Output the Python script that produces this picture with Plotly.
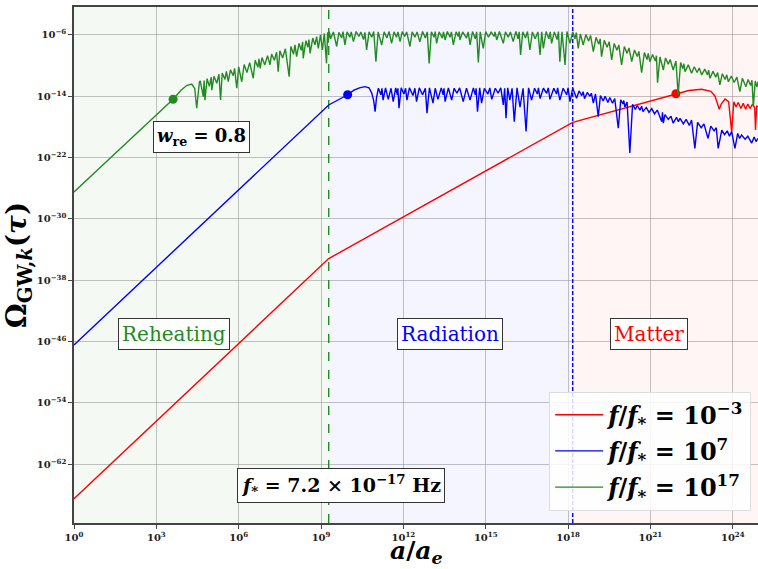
import numpy as np
import plotly.graph_objects as go

# ---------------------------------------------------------------------------
# Data (log10 of a/a_e, log10 of Omega_GW,k)
# ---------------------------------------------------------------------------
red_pts = [
    (0.0, -66.5), (9.28, -35.17), (18.17, -17.4), (21.93, -13.66),
    (22.4, -13.25), (22.87, -13.08), (23.2, -13.35), (23.35, -13.95),
    (23.45, -15.0), (23.51, -15.7), (23.58, -15.0), (23.72, -14.35),
    (23.85, -14.7), (23.96, -18.6), (24.04, -14.7), (24.12, -15.4),
    (24.2, -14.8), (24.3, -15.6), (24.38, -14.9), (24.47, -15.7),
    (24.55, -15.0), (24.63, -15.6), (24.72, -15.0), (24.8, -15.5),
    (24.83, -18.4), (24.87, -15.3), (24.92, -15.35),
]

blue_pts = [
    (0.0, -46.43), (9.28, -15.13), (9.97, -13.8), (10.2, -13.2), (10.4, -12.9),
    (10.6, -12.74), (10.75, -12.9), (10.85, -13.6), (10.92, -14.6), (10.97, -16.0),
    (11.02, -14.2), (11.09, -12.95),
    (11.18, -13.8), (11.22, -12.95), (11.26, -14.5), (11.35, -12.9), (11.45, -14.4),
    (11.55, -12.95), (11.63, -14.7), (11.72, -12.9), (11.78, -13.8), (11.8, -12.95),
    (11.84, -15.56), (11.92, -12.9), (12.02, -13.7), (12.08, -12.95), (12.13, -14.5),
    (12.22, -12.9), (12.35, -13.9), (12.42, -12.95), (12.48, -14.7), (12.58, -12.9),
    (12.7, -13.8), (12.8, -12.95), (12.86, -16.2), (12.95, -12.9), (13.08, -14.9),
    (13.16, -12.95), (13.26, -14.4), (13.38, -12.9), (13.45, -13.8), (13.48, -12.95),
    (13.52, -14.7), (13.64, -12.9), (13.76, -14.5), (13.85, -12.95), (13.95, -13.6),
    (14.05, -12.9), (14.18, -14.7), (14.3, -12.95), (14.43, -14.5), (14.55, -12.9),
    (14.62, -13.8), (14.65, -12.95), (14.7, -16.0), (14.78, -12.9), (14.85, -14.9),
    (14.95, -12.95), (15.08, -13.7), (15.15, -12.9), (15.22, -14.4), (15.35, -12.95),
    (15.45, -13.6), (15.55, -12.9), (15.64, -15.13), (15.69, -12.95), (15.74, -16.87),
    (15.8, -12.9), (15.88, -14.5), (15.96, -12.95), (16.04, -17.3), (16.14, -12.9),
    (16.25, -15.4), (16.36, -12.95), (16.47, -18.6), (16.56, -12.9), (16.67, -14.5),
    (16.78, -12.95), (16.88, -13.7), (16.92, -12.9), (16.98, -14.3), (17.1, -12.95),
    (17.22, -13.6), (17.28, -12.9), (17.34, -14.4), (17.48, -12.95), (17.58, -13.7),
    (17.62, -12.9), (17.7, -14.5), (17.82, -12.95), (17.95, -13.8), (18.0, -12.9),
    (18.07, -14.7), (18.17, -12.95),
    (18.31, -14.25), (18.4, -13.3), (18.5, -13.9), (18.55, -13.4), (18.6, -14.3),
    (18.7, -13.5), (18.8, -14.0), (18.85, -13.6), (18.92, -14.9), (19.0, -13.7),
    (19.1, -16.65), (19.18, -13.9), (19.28, -14.6), (19.35, -14.0), (19.45, -14.8),
    (19.52, -14.15), (19.62, -14.9), (19.7, -14.3), (19.83, -18.17), (19.92, -14.45),
    (20.0, -15.0), (20.03, -14.55), (20.07, -15.4), (20.15, -14.75), (20.25, -21.4),
    (20.35, -15.05), (20.45, -15.7), (20.52, -15.2), (20.62, -15.8), (20.68, -15.3),
    (20.73, -16.0), (20.85, -15.45), (20.95, -16.1), (21.05, -15.6), (21.15, -16.3),
    (21.25, -15.8), (21.41, -17.3), (21.44, -16.1), (21.47, -17.5), (21.53, -16.4),
    (21.65, -17.0), (21.75, -16.6), (21.83, -17.5), (21.95, -16.75), (22.02, -17.3),
    (22.08, -16.87), (22.2, -17.6), (22.3, -17.0), (22.42, -17.8), (22.5, -17.1),
    (22.62, -20.8), (22.72, -17.4), (22.85, -18.1), (22.95, -17.6), (23.1, -19.5),
    (23.2, -17.9), (23.32, -18.5), (23.4, -18.1), (23.47, -20.8), (23.6, -18.4),
    (23.7, -19.0), (23.8, -18.5), (23.88, -19.2), (23.96, -18.6), (24.08, -20.8),
    (24.18, -18.85), (24.25, -19.5), (24.32, -19.05), (24.45, -19.6), (24.55, -19.2),
    (24.69, -20.1), (24.78, -19.3), (24.85, -19.9), (24.92, -19.5),
]

green_pts = [
    (0.0, -26.49), (3.61, -14.39), (3.9, -13.2), (4.1, -12.6), (4.29, -12.4),
    (4.4, -13.0), (4.47, -15.56), (4.53, -13.0), (4.57, -12.1),
    (4.6, -12.0), (4.71, -14.05), (4.74, -11.95), (4.77, -14.5), (4.85, -11.7),
    (4.93, -12.7), (5.0, -11.5), (5.02, -13.2), (5.1, -11.4), (5.2, -12.3),
    (5.28, -11.1), (5.34, -14.48), (5.4, -10.95), (5.5, -11.8), (5.55, -10.75),
    (5.62, -12.1), (5.7, -10.55), (5.8, -11.3), (5.85, -10.35), (5.93, -12.95),
    (6.0, -10.15), (6.11, -12.1), (6.2, -9.85), (6.3, -10.9), (6.4, -9.6),
    (6.53, -11.65), (6.6, -9.3), (6.7, -10.2), (6.74, -9.1), (6.78, -10.35),
    (6.85, -8.95), (6.95, -9.9), (7.05, -8.7), (7.14, -9.9), (7.2, -8.5),
    (7.3, -9.3), (7.38, -8.25), (7.44, -10.8), (7.5, -8.05), (7.6, -9.0),
    (7.7, -7.8), (7.84, -11.44), (7.9, -7.5), (8.0, -8.5), (8.05, -7.3),
    (8.11, -8.83), (8.2, -7.1), (8.28, -8.0), (8.33, -6.9), (8.35, -9.04),
    (8.45, -6.75), (8.52, -7.6), (8.56, -6.6), (8.6, -8.39), (8.7, -6.4),
    (8.78, -7.3), (8.84, -6.2), (8.9, -7.74), (8.98, -6.0), (9.05, -7.96),
    (9.12, -5.8), (9.2, -9.7), (9.24, -5.65), (9.26, -7.0), (9.3, -5.55),
    (9.35, -6.5), (9.45, -5.6), (9.57, -7.5), (9.65, -5.65), (9.75, -6.4),
    (9.8, -5.55), (9.87, -7.3), (9.95, -5.6), (10.05, -6.3), (10.1, -5.6),
    (10.18, -6.87), (10.28, -5.55), (10.38, -6.2), (10.45, -5.6), (10.55, -6.6),
    (10.6, -5.65), (10.66, -7.96), (10.75, -5.6), (10.85, -6.3), (10.92, -5.55),
    (11.0, -9.48), (11.08, -5.6), (11.21, -7.3), (11.3, -5.6), (11.4, -6.4),
    (11.48, -5.55), (11.57, -7.09), (11.66, -5.6), (11.75, -6.3), (11.8, -5.6),
    (11.88, -6.87), (11.96, -5.55), (12.05, -6.2), (12.12, -5.6), (12.24, -7.5),
    (12.32, -5.6), (12.42, -6.3), (12.5, -5.6), (12.6, -6.9), (12.7, -5.55),
    (12.8, -6.4), (12.87, -5.6), (12.94, -9.7), (13.02, -5.6), (13.12, -6.3),
    (13.16, -5.55), (13.21, -7.09), (13.3, -5.6), (13.42, -6.4), (13.46, -5.6),
    (13.52, -6.65), (13.6, -5.55), (13.7, -6.3), (13.75, -5.6), (13.82, -7.3),
    (13.92, -5.6), (14.0, -6.2), (14.03, -5.55), (14.06, -6.65), (14.16, -5.6),
    (14.3, -6.4), (14.36, -5.6), (14.43, -7.3), (14.52, -5.55), (14.62, -6.5),
    (14.67, -5.6), (14.73, -9.6), (14.8, -5.6), (14.91, -7.74), (15.0, -5.55),
    (15.1, -6.3), (15.2, -5.6), (15.3, -6.2), (15.34, -5.6), (15.4, -6.65),
    (15.5, -5.55), (15.64, -7.09), (15.72, -5.6), (15.82, -6.3), (15.9, -5.6),
    (16.0, -6.87), (16.1, -5.55), (16.18, -6.5), (16.22, -5.6), (16.27, -8.6),
    (16.35, -5.6), (16.45, -6.4), (16.52, -5.55), (16.61, -7.96), (16.7, -5.6),
    (16.8, -6.5), (16.9, -5.6), (16.98, -8.6), (17.04, -5.6), (17.1, -7.74),
    (17.2, -5.55), (17.3, -6.5), (17.35, -5.6), (17.4, -7.09), (17.5, -5.6),
    (17.6, -6.6), (17.65, -5.55), (17.7, -9.48), (17.78, -5.6), (17.89, -9.9),
    (17.96, -5.55), (18.07, -7.09), (18.17, -5.6),
    (18.25, -6.5), (18.3, -5.7), (18.37, -7.74), (18.45, -5.85), (18.55, -7.3),
    (18.65, -5.95), (18.75, -6.8), (18.82, -6.05), (18.92, -8.18), (19.02, -6.3),
    (19.12, -7.2), (19.17, -6.5), (19.22, -8.83), (19.32, -6.7), (19.42, -7.6),
    (19.5, -6.9), (19.59, -9.26), (19.68, -7.1), (19.78, -8.0), (19.85, -7.3),
    (19.95, -9.9), (20.05, -7.5), (20.15, -8.4), (20.22, -7.7), (20.32, -9.48),
    (20.42, -7.95), (20.52, -8.8), (20.58, -8.15), (20.68, -10.92), (20.78, -8.3),
    (20.88, -9.2), (20.92, -8.4), (20.98, -9.48), (21.08, -8.55), (21.18, -9.4),
    (21.22, -8.7), (21.26, -12.22), (21.35, -8.85), (21.47, -10.57), (21.55, -9.0),
    (21.65, -9.8), (21.72, -9.2), (21.83, -10.57), (21.93, -9.4), (22.01, -13.83),
    (22.1, -9.6), (22.18, -10.4), (22.22, -9.75), (22.26, -10.8), (22.38, -9.9),
    (22.5, -11.0), (22.6, -10.15), (22.7, -10.9), (22.78, -10.3), (22.87, -11.22),
    (22.98, -10.45), (23.08, -11.2), (23.12, -10.6), (23.17, -11.65), (23.28, -10.75),
    (23.38, -11.5), (23.45, -10.9), (23.53, -12.52), (23.62, -11.05), (23.72, -11.8),
    (23.78, -11.2), (23.84, -12.1), (23.95, -11.35), (24.05, -12.2), (24.15, -11.5),
    (24.26, -13.4), (24.35, -11.65), (24.48, -12.74), (24.56, -11.8), (24.65, -12.6),
    (24.7, -11.9), (24.75, -15.35), (24.82, -12.0), (24.88, -12.8), (24.92, -12.1),
]

# Horizon-crossing markers (log10 a, log10 Omega)
red_dot = (21.93, -13.66)
blue_dot = (9.97, -13.8)
green_dot = (3.61, -14.39)

# Era boundaries (log10 a/a_e)
log_a_reheat_end = 9.28
log_a_eq = 18.17

legend_names = [
    "<b><i>f</i>/<i>f</i><sub>*</sub> = 10<sup>−3</sup></b>",
    "<b><i>f</i>/<i>f</i><sub>*</sub> = 10<sup>7</sup></b>",
    "<b><i>f</i>/<i>f</i><sub>*</sub> = 10<sup>17</sup></b>",
]

x_tick_exps = [0, 3, 6, 9, 12, 15, 18, 21, 24]
y_tick_exps = [-6, -14, -22, -30, -38, -46, -54, -62]

# Axis ranges (log10)
x_range = [0.0, 24.92]
y_range = [-69.66, -2.35]

RED = "#ff0000"
BLUE = "#0000ff"
GREEN = "#228b22"
SERIF = "DejaVu Serif"


def unzip(pts):
    lx, ly = zip(*pts)
    return 10 ** np.array(lx), 10 ** np.array(ly)


fig = go.Figure()

# Shaded eras
ylo, yhi = 10 ** y_range[0], 10 ** y_range[1]
eras = [
    (x_range[0], log_a_reheat_end, "rgba(34,139,34,0.05)"),
    (log_a_reheat_end, log_a_eq, "rgba(0,0,255,0.04)"),
    (log_a_eq, x_range[1], "rgba(255,0,0,0.04)"),
]
for lo, hi, col in eras:
    xa, xb = 10 ** lo, 10 ** hi
    fig.add_trace(go.Scatter(
        x=[xa, xb, xb, xa, xa], y=[ylo, ylo, yhi, yhi, ylo],
        fill="toself", fillcolor=col, mode="none",
        showlegend=False, hoverinfo="skip"))

# Era boundary lines
for lx, col, dash in [(log_a_reheat_end, GREEN, "dash"), (log_a_eq, BLUE, "4px,2px")]:
    fig.add_trace(go.Scatter(
        x=[10 ** lx, 10 ** lx], y=[ylo, yhi], mode="lines",
        line=dict(color=col, width=1.4, dash=dash),
        showlegend=False, hoverinfo="skip"))

# Spectra
for i, (pts, dot, col, name) in enumerate([
    (red_pts, red_dot, RED, legend_names[0]),
    (blue_pts, blue_dot, BLUE, legend_names[1]),
    (green_pts, green_dot, GREEN, legend_names[2]),
]):
    x, y = unzip(pts)
    fig.add_trace(go.Scatter(x=x, y=y, mode="lines", name=name,
                             legendgroup=f"g{i}",
                             line=dict(color=col, width=1.4)))
    fig.add_trace(go.Scatter(x=[10 ** dot[0]], y=[10 ** dot[1]], mode="markers",
                             marker=dict(color=col, size=9),
                             showlegend=False, hoverinfo="skip"))


def box_note(text, x, y, color="black", size=20):
    fig.add_annotation(
        text=text, x=x, y=y, xref="paper", yref="paper",
        xanchor="center", yanchor="middle",
        showarrow=False, font=dict(family=SERIF, size=size, color=color),
        bgcolor="white", bordercolor="#333333", borderwidth=1, borderpad=3)


box_note("<b><i>w</i><sub>re</sub> = 0.8</b>", 0.186, 0.749, size=18)
box_note("Reheating", 0.1455, 0.367, color=GREEN, size=20)
box_note("Radiation", 0.5504, 0.367, color=BLUE, size=20)
box_note("Matter", 0.840, 0.367, color=RED, size=20)
box_note("<b><i>f</i><sub>*</sub> = 7.2 × 10<sup>−17</sup> Hz</b>", 0.390, 0.0736, size=19)

# x-axis title placed as a paper annotation below the tick labels
fig.add_annotation(
    text="<b><i>a</i>/<i>a<sub>e</sub></i></b>", x=0.5, y=-0.057,
    xref="paper", yref="paper", xanchor="center", yanchor="middle",
    showarrow=False, font=dict(family=SERIF, size=25, color="black"))

grid_col = "rgba(150,150,150,0.55)"
fig.update_xaxes(
    type="log", range=x_range, automargin=False,
    tickvals=[10.0 ** e for e in x_tick_exps],
    ticktext=[f"<b>10<sup>{e}</sup></b>" for e in x_tick_exps],
    tickfont=dict(family=SERIF, size=10, color="#222"),
    showgrid=True, gridcolor=grid_col, gridwidth=1,
    showline=True, linecolor="#444", linewidth=1.5, mirror=True,
    ticks="outside", ticklen=4, tickcolor="#444",
    zeroline=False,
)
fig.update_yaxes(
    type="log", range=y_range, automargin=False,
    tickvals=[10.0 ** e for e in y_tick_exps],
    ticktext=[f"<b>10<sup>−{-e}</sup></b>" for e in y_tick_exps],
    tickfont=dict(family=SERIF, size=10, color="#222"),
    showgrid=True, gridcolor=grid_col, gridwidth=1,
    showline=True, linecolor="#444", linewidth=1.5, mirror=False,
    ticks="outside", ticklen=4, tickcolor="#444",
    zeroline=False,
    title=dict(text="<b>Ω<sub>GW,<i>k</i></sub>(<i>τ</i>)</b>",
               font=dict(family=SERIF, size=28, color="black"), standoff=8),
)

fig.update_layout(
    width=758, height=569,
    margin=dict(l=74, r=0, t=7, b=46),
    plot_bgcolor="white", paper_bgcolor="white",
    legend=dict(
        x=0.99, y=0.024, xanchor="right", yanchor="bottom",
        bgcolor="rgba(255,255,255,0.85)", bordercolor="#dddddd", borderwidth=1,
        font=dict(family=SERIF, size=24, color="black"),
        itemwidth=48, tracegroupgap=2,
    ),
)

fig.write_html("out.html")
